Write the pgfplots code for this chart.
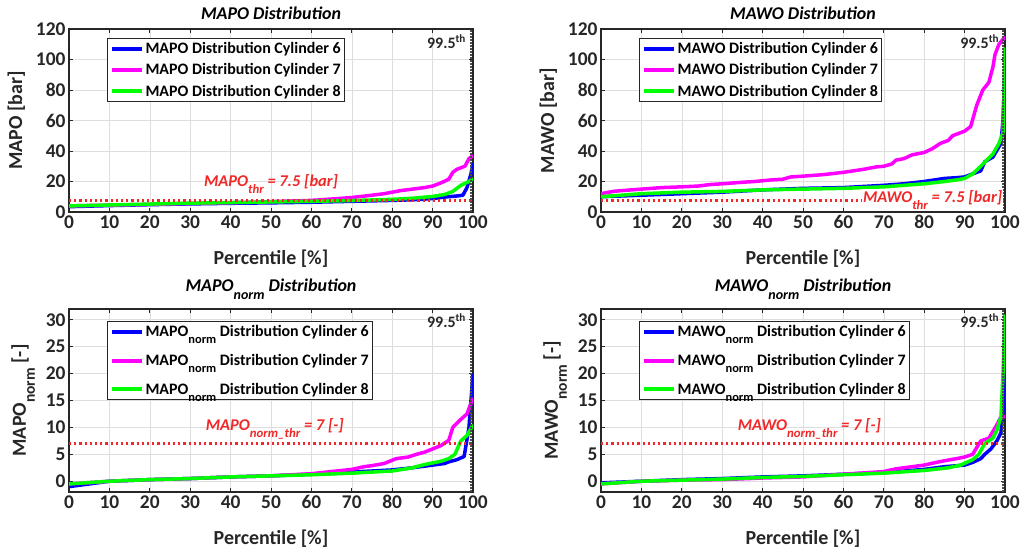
\documentclass[border=0pt]{standalone}
\usepackage{pgfplots}
\pgfplotsset{compat=1.18}
\usepackage{fontspec}
\setmainfont{Carlito}
\definecolor{axgray}{RGB}{38,38,38}
\definecolor{cblue}{RGB}{0,0,255}
\definecolor{cmag}{RGB}{255,0,255}
\definecolor{cgreen}{RGB}{0,255,0}
\definecolor{thr}{RGB}{240,40,40}
\newcommand{\sub}[1]{\raisebox{-0.45em}{\scalebox{0.78}{#1}}}
\pgfplotsset{
 mystyle/.style={
  scale only axis, width=404bp, height=183bp,
  xmin=0, xmax=100, xtick={0,10,...,100},
  grid=major, grid style={black!13, line width=0.6bp},
  axis line style={axgray, line width=1.2bp},
  tick style={axgray, line width=0.8bp}, tick align=inside, major tick length=4bp,
  ticklabel style={font=\fontsize{19.5}{19.5}\selectfont\bfseries, text=axgray},
  /pgf/number format/assume math mode=true,
  label style={font=\fontsize{20}{20}\selectfont\bfseries, text=axgray},
  xlabel style={yshift=-14bp},
  ylabel style={yshift=4bp},
  title style={font=\fontsize{18}{18}\selectfont\bfseries\itshape, text=black},
  xlabel={Percentile [\%]},
  legend style={font=\fontsize{16}{16}\selectfont\bfseries, draw=axgray, line width=1.2bp,
     anchor=north west, at={(0.094,0.951)}, inner sep=2bp, text=black, row sep=4.5bp},
  legend cell align=left,
  legend image code/.code={\draw[##1, line width=4bp] (0bp,0bp) -- (30bp,0bp);},
  every axis plot/.append style={line width=3.5bp, line join=round},
 },
 thrline/.style={thr, line width=2.2bp, dotted, dash pattern=on 2.2bp off 3bp},
 pline/.style={black!70, line width=1.6bp, dash pattern=on 1.5bp off 1.5bp},
 normleg/.style={legend style={row sep=12bp, at={(0.094,0.935)}}},
}
\begin{document}
\begin{tikzpicture}
\useasboundingbox (0,0) rectangle (1023bp,550bp);
% ---------------- MAPO
\begin{axis}[mystyle, at={(69bp,338bp)}, anchor=south west,
  ymin=0, ymax=120, ytick={0,20,...,120},
  ylabel={MAPO [bar]}, title={MAPO Distribution}]
\addplot[cblue] coordinates {(0,3.5) (10,4.2) (20,4.8) (30,5.3) (40,5.7) (50,6) (60,6.4) (70,7) (80,7.6) (85,8) (90,8.8) (93,9.8) (96,10.5) (97.5,11) (98.5,16) (99.5,25) (100,32)};
\addplot[cmag] coordinates {(0,4) (10,4.5) (20,5) (30,5.6) (40,6.1) (50,6.8) (60,7.6) (65,8.5) (70,9.5) (75,11) (78,12) (82,14) (85,15) (88,16) (90,17) (92,19) (94,21.5) (95,26) (96,28) (98,30) (99,35) (100,37)};
\addplot[cgreen] coordinates {(0,4) (10,4.6) (20,5.2) (30,5.8) (40,6.2) (50,6.6) (60,7) (70,7.5) (80,8.3) (85,9) (90,10.2) (93,11.5) (95,13.5) (97,17.5) (99,20) (100,22)};
\addplot[thrline] coordinates {(0,7.5) (100,7.5)};
\addplot[pline] coordinates {(99.5,0) (99.5,120)};
\node[anchor=base, font=\fontsize{16.5}{16.5}\selectfont\bfseries\itshape, text=thr] at (axis cs:50,17) {MAPO\sub{thr} = 7.5 [bar]};
\node[anchor=north east, font=\fontsize{16}{16}\selectfont\bfseries, text=axgray, inner sep=0pt] at (axis cs:98.3,116.5) {99.5\textsuperscript{th}};
\legend{MAPO Distribution Cylinder 6, MAPO Distribution Cylinder 7, MAPO Distribution Cylinder 8}
\end{axis}
% ---------------- MAWO
\begin{axis}[mystyle, at={(601bp,338bp)}, anchor=south west,
  ymin=0, ymax=120, ytick={0,20,...,120},
  ylabel={MAWO [bar]}, title={MAWO Distribution}]
\addplot[cblue] coordinates {(0,10) (10,11) (20,12) (30,13) (40,14.5) (50,15.5) (60,16) (70,17.5) (75,18.5) (80,20) (85,22) (88,22.5) (90,23) (92,25) (94,27) (95,33) (97,36) (99,45) (99.5,60) (100,95)};
\addplot[cmag] coordinates {(0,12) (3,13.5) (5,14) (10,15) (15,16) (20,16.5) (24,17) (27,18) (30,18.5) (35,19.5) (38,20) (42,21) (45,21.5) (47,23) (50,23.5) (55,24.5) (60,26) (65,28) (68,29.5) (70,30) (72,31.5) (73,34) (75,35) (77,37.5) (80,39) (82,41.5) (84,45) (86,47) (87,50) (89,52) (90,53) (91.5,56) (93,70) (94.5,80) (96,85) (97,95) (97.5,103) (98.5,110) (100,115)};
\addplot[cgreen] coordinates {(0,10) (5,11) (10,12) (20,13) (30,13.5) (40,14.5) (50,15) (60,15.5) (70,16.5) (75,17.5) (80,18.5) (85,20) (88,21) (90,22) (92,25) (94,30) (95.5,34) (97,38) (98.5,45) (99.5,52) (100,108)};
\addplot[thrline] coordinates {(0,7.5) (100,7.5)};
\addplot[pline] coordinates {(99.5,0) (99.5,120)};
\node[anchor=base east, font=\fontsize{16.5}{16.5}\selectfont\bfseries\itshape, text=thr, fill=white, inner sep=1bp] at (axis cs:99.6,6.3) {MAWO\sub{thr} = 7.5 [bar]};
\node[anchor=north east, font=\fontsize{16}{16}\selectfont\bfseries, text=axgray, inner sep=0pt] at (axis cs:98.6,116.5) {99.5\textsuperscript{th}};
\legend{MAWO Distribution Cylinder 6, MAWO Distribution Cylinder 7, MAWO Distribution Cylinder 8}
\end{axis}
% ---------------- MAPO norm
\begin{axis}[mystyle, normleg, at={(69bp,58bp)}, anchor=south west,
  ymin=-2, ymax=32, ytick={0,5,...,30},
  ylabel={MAPO\sub{norm} [-]}, title={MAPO\sub{norm} Distribution}]
\addplot[cblue] coordinates {(0,-1) (10,0) (20,0.3) (30,0.5) (40,0.8) (50,1) (60,1.3) (65,1.5) (70,1.7) (80,2.1) (85,2.5) (90,3) (93,3.3) (94,3.6) (96,4) (97.8,4.6) (99,10) (100,20)};
\addplot[cmag] coordinates {(0,-0.5) (10,0) (20,0.3) (30,0.5) (40,0.8) (50,1) (60,1.4) (65,1.8) (70,2.2) (73,2.7) (75,2.9) (78,3.3) (81,4.2) (84,4.5) (86,5) (88,5.4) (90,6) (92,6.6) (94,7.6) (95,10) (97,11.5) (98.5,12.5) (100,15.5)};
\addplot[cgreen] coordinates {(0,-0.5) (10,0) (20,0.3) (30,0.5) (40,0.8) (50,1) (60,1.2) (70,1.5) (80,1.9) (85,2.5) (88,3.1) (92,3.7) (94,4.2) (95.5,5) (97,7.5) (98.5,8.5) (100,10.5)};
\addplot[thrline] coordinates {(0,7) (100,7)};
\addplot[pline] coordinates {(99.5,-2) (99.5,32)};
\node[anchor=base west, font=\fontsize{16.5}{16.5}\selectfont\bfseries\itshape, text=thr] at (axis cs:33,9.5) {MAPO\sub{norm\_thr} = 7 [-]};
\node[anchor=north east, font=\fontsize{16}{16}\selectfont\bfseries, text=axgray, inner sep=0pt] at (axis cs:98.3,31.2) {99.5\textsuperscript{th}};
\legend{MAPO\sub{norm} Distribution Cylinder 6, MAPO\sub{norm} Distribution Cylinder 7, MAPO\sub{norm} Distribution Cylinder 8}
\end{axis}
% ---------------- MAWO norm
\begin{axis}[mystyle, normleg, at={(601bp,58bp)}, anchor=south west,
  ymin=-2, ymax=32, ytick={0,5,...,30},
  ylabel={MAWO\sub{norm} [-]}, title={MAWO\sub{norm} Distribution}]
\addplot[cblue] coordinates {(0,-0.3) (10,0) (20,0.3) (30,0.5) (40,0.8) (50,1) (60,1.3) (70,1.6) (80,2.2) (85,2.7) (90,3) (92,3.5) (94,4.2) (95,5) (96.5,6) (98,7.5) (99,9) (99.5,13) (100,24)};
\addplot[cmag] coordinates {(0,-0.5) (10,0) (20,0.2) (30,0.3) (40,0.6) (50,0.8) (60,1.3) (70,1.8) (73,2.3) (75,2.5) (80,3) (83,3.5) (85,3.8) (88,4.2) (90,4.5) (92,5) (94,7.5) (96,8) (98,10.5) (99,12) (100,12)};
\addplot[cgreen] coordinates {(0,-0.5) (10,0) (20,0.2) (30,0.4) (40,0.7) (50,0.9) (60,1.2) (70,1.5) (80,2) (86,2.5) (89,3) (92,4) (93.5,5) (95,7) (97,8) (98,9.5) (99,12) (99.5,20) (100,31)};
\addplot[thrline] coordinates {(0,7) (100,7)};
\addplot[pline] coordinates {(99.5,-2) (99.5,32)};
\node[anchor=base west, font=\fontsize{16.5}{16.5}\selectfont\bfseries\itshape, text=thr] at (axis cs:33,9.5) {MAWO\sub{norm\_thr} = 7 [-]};
\node[anchor=north east, font=\fontsize{16}{16}\selectfont\bfseries, text=axgray, inner sep=0pt] at (axis cs:98.6,31.2) {99.5\textsuperscript{th}};
\legend{MAWO\sub{norm} Distribution Cylinder 6, MAWO\sub{norm} Distribution Cylinder 7, MAWO\sub{norm} Distribution Cylinder 8}
\end{axis}
\end{tikzpicture}
\end{document}
